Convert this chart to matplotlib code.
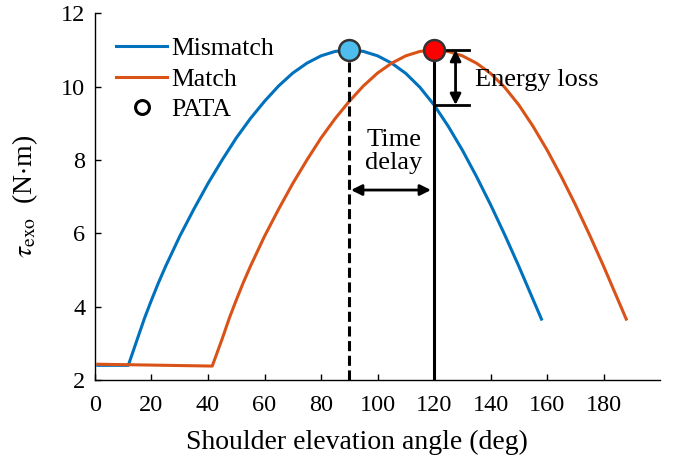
import matplotlib
matplotlib.use("Agg")
import matplotlib.pyplot as plt

plt.rcParams['font.family'] = ['Liberation Serif', 'DejaVu Serif']
plt.rcParams['mathtext.fontset'] = 'stix'

# values
mis_x = [1, 11.8, 15, 17.6, 20, 22.4, 25, 30, 35, 40, 45, 50, 55, 60, 65, 70, 75, 80, 85, 90,
         95, 100, 105, 110, 115, 120, 125, 130, 135, 140, 145, 150, 155, 158]
mis_y = [2.40, 2.40, 3.12, 3.70, 4.18, 4.64, 5.10, 5.92, 6.66, 7.36, 8.00, 8.60, 9.13, 9.60,
         10.02, 10.37, 10.64, 10.84, 10.96, 11.00,
         10.96, 10.84, 10.64, 10.36, 9.98, 9.50, 8.92, 8.27, 7.55, 6.78, 5.96,
         5.10, 4.20, 3.66]

mat_x = [1, 41.5, 45, 47.6, 50, 52.4, 55, 60, 65, 70, 75, 80, 85, 90, 95, 100, 105, 110, 115, 120,
         125, 130, 135, 140, 145, 150, 155, 160, 165, 170, 175, 180, 185, 188]
mat_y = [2.43, 2.38, 3.12, 3.70, 4.18, 4.64, 5.10, 5.92, 6.66, 7.36, 8.00, 8.60, 9.13, 9.60,
         10.02, 10.37, 10.64, 10.84, 10.96, 11.00,
         10.96, 10.84, 10.64, 10.36, 9.98, 9.50, 8.92, 8.27, 7.55, 6.78, 5.96,
         5.10, 4.20, 3.66]

pata_mis = (90, 11.0)
pata_mat = (120, 11.0)
loss_low = 9.5
delay_y = 7.18

xticks = [0, 20, 40, 60, 80, 100, 120, 140, 160, 180]
yticks = [2, 4, 6, 8, 10, 12]

c_mis = '#0072BD'
c_mat = '#D95319'

fig = plt.figure(figsize=(6.75, 4.61), dpi=100)
ax = fig.add_axes([0.1407, 0.1757, 0.8373, 0.7955])

ax.plot(mis_x, mis_y, color=c_mis, lw=2.2, label='Mismatch', zorder=3)
ax.plot(mat_x, mat_y, color=c_mat, lw=2.2, label='Match', zorder=3)
ax.plot([], [], 'o', mfc='white', mec='black', ms=10, mew=2.2, label='PATA')

# vertical PATA lines
ax.plot([pata_mis[0], pata_mis[0]], [2, pata_mis[1]], color='black', lw=2.2,
        dashes=(3.3, 1.5), zorder=4)
ax.plot([pata_mat[0], pata_mat[0]], [2, pata_mat[1]], color='black', lw=2.2, zorder=4)

# PATA markers
ax.plot(*pata_mis, 'o', ms=15, mfc='#4DBEEE', mec='#333333', mew=1.8, zorder=6)
ax.plot(*pata_mat, 'o', ms=15, mfc='#FF0000', mec='#333333', mew=1.8, zorder=6)

# energy loss bracket
ax.plot([123.5, 132.4], [pata_mat[1], pata_mat[1]], color='black', lw=2, zorder=5)
ax.plot([120, 132.2], [loss_low, loss_low], color='black', lw=2, zorder=5)
ax.annotate('', xy=(127.6, loss_low), xytext=(127.6, pata_mat[1]),
            arrowprops=dict(arrowstyle='<|-|>', color='black', lw=2,
                            mutation_scale=16, shrinkA=0, shrinkB=0))
ax.text(134.5, 10.18, 'Energy loss', fontsize=19, ha='left', va='center')

# time delay arrow
ax.annotate('', xy=(90.6, delay_y), xytext=(118.9, delay_y),
            arrowprops=dict(arrowstyle='<|-|>', color='black', lw=2,
                            mutation_scale=16, shrinkA=0, shrinkB=0))
ax.text(105.8, 8.22, 'Time\ndelay', fontsize=19, ha='center', va='center',
        linespacing=1.05)

ax.set_xlim(0, 200)
ax.set_ylim(2, 12)
ax.set_xticks(xticks)
ax.set_yticks(yticks)
ax.tick_params(direction='in', length=4, width=1, labelsize=17.5)
ax.tick_params(axis='x', pad=11)
ax.tick_params(axis='y', pad=7)
for s in ['top', 'right']:
    ax.spines[s].set_visible(False)
for s in ['left', 'bottom']:
    ax.spines[s].set_linewidth(1)

ax.set_xlabel('Shoulder elevation angle (deg)', fontsize=20)
ax.xaxis.set_label_coords(0.464, -0.135)
ax.set_ylabel(r'$\tau_{\mathrm{exo}}$  (N$\cdot$m)', fontsize=20)
ax.yaxis.set_label_coords(-0.097, 0.5)

ax.legend(loc='upper left', bbox_to_anchor=(0.037, 0.935), frameon=False,
          fontsize=18.5, handlelength=2.0, handletextpad=0.15, labelspacing=0.3,
          borderpad=0, borderaxespad=0)

fig.savefig('out.png', dpi=100)
